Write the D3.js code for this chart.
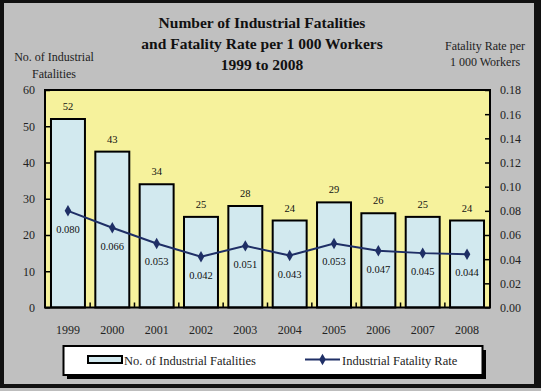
<!DOCTYPE html>
<html><head><meta charset="utf-8">
<script src="https://cdn.jsdelivr.net/npm/d3@7"></script>
<style>html,body{margin:0;padding:0;background:#c0c0c0;}svg{display:block;}</style>
</head><body>
<script>
const years = ["1999","2000","2001","2002","2003","2004","2005","2006","2007","2008"];
const fatalities = [52,43,34,25,28,24,29,26,25,24];
const rates = [0.080,0.066,0.053,0.042,0.051,0.043,0.053,0.047,0.045,0.044];
const leftTicks = [0,10,20,30,40,50,60];
const rightTicks = [0,0.02,0.04,0.06,0.08,0.10,0.12,0.14,0.16,0.18];
const titleLines = ["Number of Industrial Fatalities","and Fatality Rate per 1 000 Workers","1999 to 2008"];
const leftTitle = ["No. of Industrial","Fatalities"];
const rightTitle = ["Fatality Rate per","1 000 Workers"];
const legendLabels = ["No. of Industrial Fatalities","Industrial Fatality Rate"];

const W=541,H=391;
const serif = "'Liberation Serif','Times New Roman',serif";
const svg = d3.select("body").append("svg").attr("width",W).attr("height",H);
svg.append("rect").attr("width",W).attr("height",H).attr("fill","#111");
svg.append("rect").attr("x",4).attr("y",3).attr("width",530).attr("height",381).attr("fill","#c0c0c0");
svg.append("rect").attr("x",0).attr("y",388).attr("width",W).attr("height",3).attr("fill","#bdbdbd");

const L=45,R=490,T=90,B=307.5;
const x = d3.scaleBand().domain(years).range([L,R]).paddingInner(0.234).paddingOuter(0.135);
const yL = d3.scaleLinear().domain([0,60]).range([B,T]);
const yR = d3.scaleLinear().domain([0,0.18]).range([B,T]);

svg.append("rect").attr("x",L).attr("y",T).attr("width",R-L).attr("height",B-T).attr("fill","#f6f29c");

// bars
svg.append("g").selectAll("rect").data(years).join("rect")
  .attr("x",d=>x(d)).attr("width",x.bandwidth())
  .attr("y",(d,i)=>yL(fatalities[i])).attr("height",(d,i)=>B-yL(fatalities[i]))
  .attr("fill","#d2e9ef").attr("stroke","#000").attr("stroke-width",2);

// bar labels
svg.append("g").selectAll("text").data(years).join("text")
  .attr("x",d=>x(d)+x.bandwidth()/2).attr("y",(d,i)=>yL(fatalities[i])-9)
  .attr("text-anchor","middle").attr("font-family",serif).attr("font-size","10.5px").attr("fill","#111")
  .text((d,i)=>fatalities[i]);

// category ticks
const step = x.step();
const bounds = years.slice(1).map(d=>x(d)-step*x.paddingInner()/2);
svg.append("g").selectAll("line").data(bounds).join("line")
  .attr("x1",d=>d).attr("x2",d=>d).attr("y1",B).attr("y2",B-5)
  .attr("stroke","#000").attr("stroke-width",1.5);

// line
const line = d3.line().x((d,i)=>x(years[i])+x.bandwidth()/2).y(d=>yR(d));
svg.append("path").datum(rates).attr("d",line).attr("fill","none").attr("stroke","#1f2f66").attr("stroke-width",2);
const diamond = d3.symbol().type(d3.symbolDiamond).size(38);
svg.append("g").selectAll("path").data(rates).join("path")
  .attr("d",diamond).attr("transform",(d,i)=>`translate(${x(years[i])+x.bandwidth()/2},${yR(d)})`)
  .attr("fill","#1f2f66");
svg.append("g").selectAll("text").data(rates).join("text")
  .attr("x",(d,i)=>x(years[i])+x.bandwidth()/2).attr("y",d=>yR(d)+22)
  .attr("text-anchor","middle").attr("font-family",serif).attr("font-size","10.5px").attr("fill","#111")
  .text(d=>d3.format(".3f")(d));

// frame
svg.append("rect").attr("x",L).attr("y",T).attr("width",R-L).attr("height",B-T)
  .attr("fill","none").attr("stroke","#000").attr("stroke-width",2);

// axes
const axL = svg.append("g").attr("transform",`translate(${L},0)`)
  .call(d3.axisLeft(yL).tickValues(leftTicks).tickSizeInner(-5).tickSizeOuter(0).tickPadding(10).tickFormat(d3.format("d")));
const axR = svg.append("g").attr("transform",`translate(${R},0)`)
  .call(d3.axisRight(yR).tickValues(rightTicks).tickSizeInner(-5).tickSizeOuter(0).tickPadding(10).tickFormat(d3.format(".2f")));
const axB = svg.append("g").attr("transform",`translate(0,${B})`)
  .call(d3.axisBottom(x).tickSize(0).tickPadding(18));
[axL,axR,axB].forEach(a=>{
  a.select(".domain").remove();
  a.selectAll("line").attr("stroke","#000").attr("stroke-width",1.5);
  a.selectAll("text").attr("font-family",serif).attr("font-size","12px").attr("fill","#222");
});

// titles
svg.append("g").selectAll("text").data(titleLines).join("text")
  .attr("x",262).attr("y",(d,i)=>27.5+i*21.3).attr("text-anchor","middle")
  .attr("font-family",serif).attr("font-weight","bold").attr("font-size","15.5px").attr("fill","#111").text(d=>d);
svg.append("g").selectAll("text").data(leftTitle).join("text")
  .attr("x",54).attr("y",(d,i)=>61+i*16.5).attr("text-anchor","middle")
  .attr("font-family",serif).attr("font-size","12px").attr("fill","#222").text(d=>d);
svg.append("g").selectAll("text").data(rightTitle).join("text")
  .attr("x",485).attr("y",(d,i)=>50+i*16).attr("text-anchor","middle")
  .attr("font-family",serif).attr("font-size","12px").attr("fill","#222").text(d=>d);

// legend
svg.append("rect").attr("x",67).attr("y",350).attr("width",419).attr("height",29).attr("fill","#000");
svg.append("rect").attr("x",63.5).attr("y",346).attr("width",419).attr("height",29).attr("fill","#fff").attr("stroke","#000").attr("stroke-width",2);
svg.append("rect").attr("x",88).attr("y",356).attr("width",34).attr("height",7).attr("fill","#d2e9ef").attr("stroke","#000").attr("stroke-width",2);
svg.append("text").attr("x",124).attr("y",364.5).attr("font-family",serif).attr("font-size","12.5px").attr("fill","#222").text(legendLabels[0]);
svg.append("line").attr("x1",305).attr("x2",340).attr("y1",359.5).attr("y2",359.5).attr("stroke","#1f2f66").attr("stroke-width",2);
svg.append("path").attr("d",diamond).attr("transform","translate(322.5,359.5)").attr("fill","#1f2f66");
svg.append("text").attr("x",342).attr("y",364.5).attr("font-family",serif).attr("font-size","12.5px").attr("fill","#222").text(legendLabels[1]);
</script>
</body></html>
